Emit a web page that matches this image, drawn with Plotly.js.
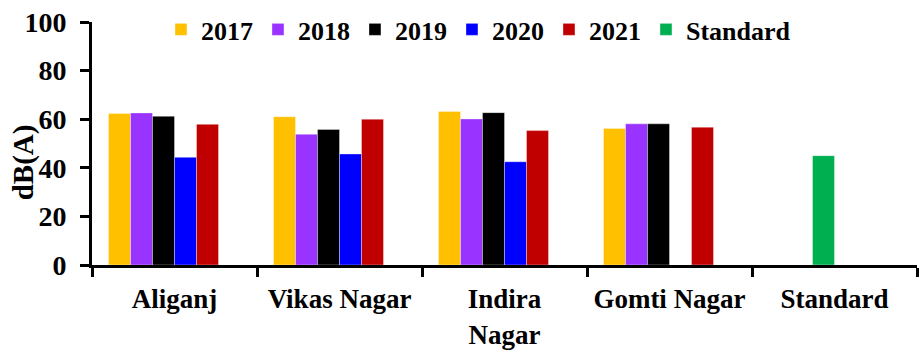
<!DOCTYPE html>
<html>
<head>
<meta charset="utf-8">
<script src="https://cdn.plot.ly/plotly-3.0.1.min.js"></script>
<style>html,body{margin:0;padding:0;background:#fff;}#chart{width:919px;height:351px;}</style>
</head>
<body>
<div id="chart"></div>
<script>
const categories = ["Aliganj", "Vikas Nagar", "Indira<br>Nagar", "Gomti Nagar", "Standard"];
const seriesNames = ["2017", "2018", "2019", "2020", "2021", "Standard"];
const v2017 = [62.3, 61.0, 63.2, 56.2, null];
const v2018 = [62.6, 53.8, 60.1, 58.1, null];
const v2019 = [61.2, 55.8, 62.7, 58.1, null];
const v2020 = [44.3, 45.7, 42.5, null, null];
const v2021 = [57.9, 60.0, 55.3, 56.7, null];
const vStandard = [null, null, null, null, 45];
const yTicks = [0, 20, 40, 60, 80, 100];

const colors = ["#FFC000", "#9933FF", "#000000", "#0000FF", "#C00000", "#00B050"];
const allValues = [v2017, v2018, v2019, v2020, v2021, vStandard];
const slotW = 0.8 / 6;
const slots = [0, 1, 2, 3, 4, 2];

const fam = "Liberation Serif, Times New Roman, serif";
const mk = (s) => ({family: fam, size: s, color: "#000", weight: 700});

const traces = allValues.map((vals, i) => ({
  type: "bar",
  name: seriesNames[i],
  x: categories,
  y: vals,
  width: slotW,
  offset: -0.4 + slots[i] * slotW,
  marker: {color: colors[i], line: {width: 0.6, color: "rgba(255,255,255,0.6)"}},
  hoverinfo: "x+y+name"
}));

const layout = {
  width: 919, height: 351,
  margin: {l: 92, r: 2, t: 22, b: 86},
  paper_bgcolor: "#fff", plot_bgcolor: "#fff",
  barmode: "overlay",
  font: mk(26),
  showlegend: true,
  legend: {
    orientation: "h", x: 0.0836, y: 1.066, xanchor: "left", yanchor: "top",
    font: mk(26), bgcolor: "rgba(0,0,0,0)", traceorder: "normal"
  },
  xaxis: {
    type: "category", range: [-0.5, 4.5], tickangle: 0, automargin: false,
    showline: true, linecolor: "#000", linewidth: 3,
    ticks: "outside", tickson: "boundaries", ticklen: 9, tickwidth: 3, tickcolor: "#000",
    tickfont: mk(27), ticklabelstandoff: 8, showgrid: false, zeroline: false, fixedrange: true
  },
  yaxis: {
    range: [0, 100], tickvals: yTicks, ticktext: yTicks.map(String), automargin: false,
    showline: true, linecolor: "#000", linewidth: 3,
    ticks: "outside", ticklen: 9, tickwidth: 3, tickcolor: "#000",
    tickfont: mk(28), ticklabelstandoff: 8, showgrid: false, zeroline: false, fixedrange: true
  },
  annotations: [{
    text: "dB(A)", textangle: -90, showarrow: false,
    xref: "paper", yref: "paper", x: -0.082, y: 0.424,
    xanchor: "center", yanchor: "middle", font: mk(29)
  }]
};

Plotly.newPlot("chart", traces, layout, {displayModeBar: false, staticPlot: true});
</script>
</body>
</html>
